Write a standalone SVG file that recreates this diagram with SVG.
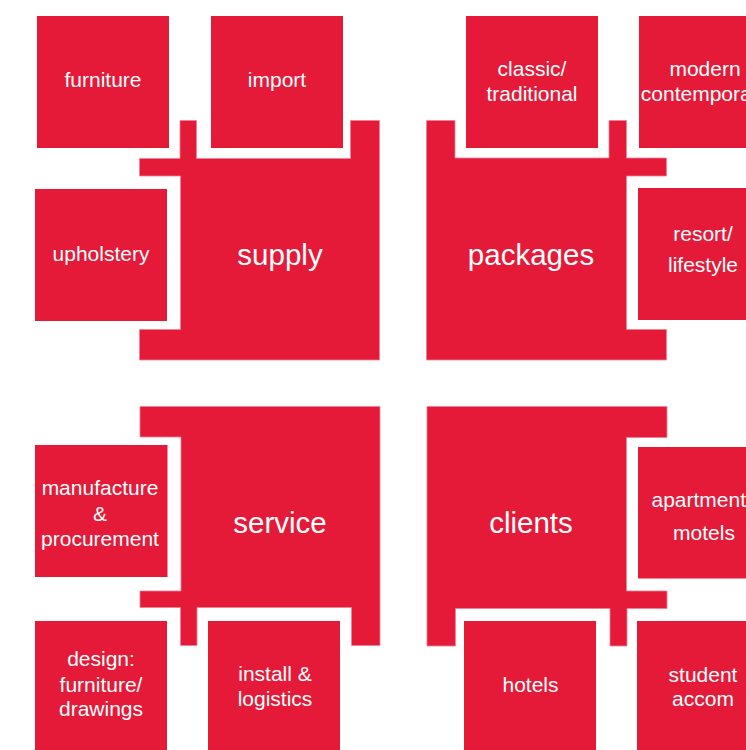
<svg xmlns="http://www.w3.org/2000/svg" width="746" height="750" viewBox="0 0 746 750">
<style>
.b{fill:#e41a38;stroke:#ef8091;stroke-width:0.8}
.s{fill:#e41a38}
text{font-family:"Liberation Sans",Arial,Helvetica,sans-serif;fill:#ffffff;text-anchor:middle}
.t{font-size:21px}
.T{font-size:29.5px}
</style>
<rect width="746" height="750" fill="#ffffff"/>
<g id="supply">
<polygon class="b" points="180,120.5 196.5,120.5 196.5,158.5 350.5,158.5 350.5,120.5 379.5,120.5 379.5,360 139.5,360 139.5,329.5 180.5,329.5 180.5,176 139.5,176 139.5,158.5 180,158.5"/>
<text class="T" x="280" y="264.5">supply</text>
</g>
<g id="packages">
<polygon class="b" points="426.5,120.5 455,120.5 455,158 609,158 609,120.5 626.5,120.5 626.5,158 666.5,158 666.5,176 626.5,176 626.5,329.5 666.5,329.5 666.5,360 426.5,360"/>
<text class="T" x="531" y="264.5">packages</text>
</g>
<g id="service">
<polygon class="b" points="140,406.5 380,406.5 380,645.5 351.5,645.5 351.5,607.5 197,607.5 197,645.5 180.5,645.5 180.5,607.5 140,607.5 140,591 181,591 181,437 140,437"/>
<text class="T" x="280" y="532.5">service</text>
</g>
<g id="clients">
<polygon class="b" points="427,406.5 667,406.5 667,437.5 626.5,437.5 626.5,591 667,591 667,608.5 627,608.5 627,646 610,646 610,608.5 455.5,608.5 455.5,646 427,646"/>
<text class="T" x="531" y="532.5">clients</text>
</g>
<g id="furniture">
<rect class="s" x="37" y="16" width="132" height="132"/>
<text class="t" x="103" y="86.5">furniture</text>
</g>
<g id="import">
<rect class="s" x="211" y="16" width="132" height="132"/>
<text class="t" x="277" y="86.5">import</text>
</g>
<g id="upholstery">
<rect class="s" x="35" y="189" width="132" height="132"/>
<text class="t" x="101" y="261">upholstery</text>
</g>
<g id="classic">
<rect class="s" x="466" y="16" width="132" height="132"/>
<text class="t" x="532" y="76">classic/</text>
<text class="t" x="532" y="101">traditional</text>
</g>
<g id="modern">
<rect class="s" x="639" y="16" width="132" height="132"/>
<text class="t" x="705" y="76">modern</text>
<text class="t" x="705" y="101">contemporary</text>
</g>
<g id="resort">
<rect class="s" x="638" y="188" width="132" height="132"/>
<text class="t" x="703" y="241">resort/</text>
<text class="t" x="703" y="272">lifestyle</text>
</g>
<g id="manufacture">
<rect class="s" x="35" y="445" width="132.5" height="132"/>
<text class="t" x="100" y="495">manufacture</text>
<text class="t" x="100" y="521">&amp;</text>
<text class="t" x="100" y="546">procurement</text>
</g>
<g id="design">
<rect class="s" x="35" y="621" width="132" height="132"/>
<text class="t" x="101" y="666">design:</text>
<text class="t" x="101" y="691.5">furniture/</text>
<text class="t" x="101" y="716">drawings</text>
</g>
<g id="install">
<rect class="s" x="208" y="621" width="132" height="132"/>
<text class="t" x="275" y="681">install &amp;</text>
<text class="t" x="275" y="705.5">logistics</text>
</g>
<g id="apartments">
<rect class="s" x="638" y="447" width="132" height="131.5"/>
<text class="t" x="704" y="507">apartments</text>
<text class="t" x="704" y="540">motels</text>
</g>
<g id="hotels">
<rect class="s" x="464" y="621" width="132" height="132"/>
<text class="t" x="530.5" y="692">hotels</text>
</g>
<g id="student">
<rect class="s" x="637" y="621" width="132" height="132"/>
<text class="t" x="703" y="682">student</text>
<text class="t" x="703" y="705.5">accom</text>
</g>
<g id="connectors"/>
</svg>
